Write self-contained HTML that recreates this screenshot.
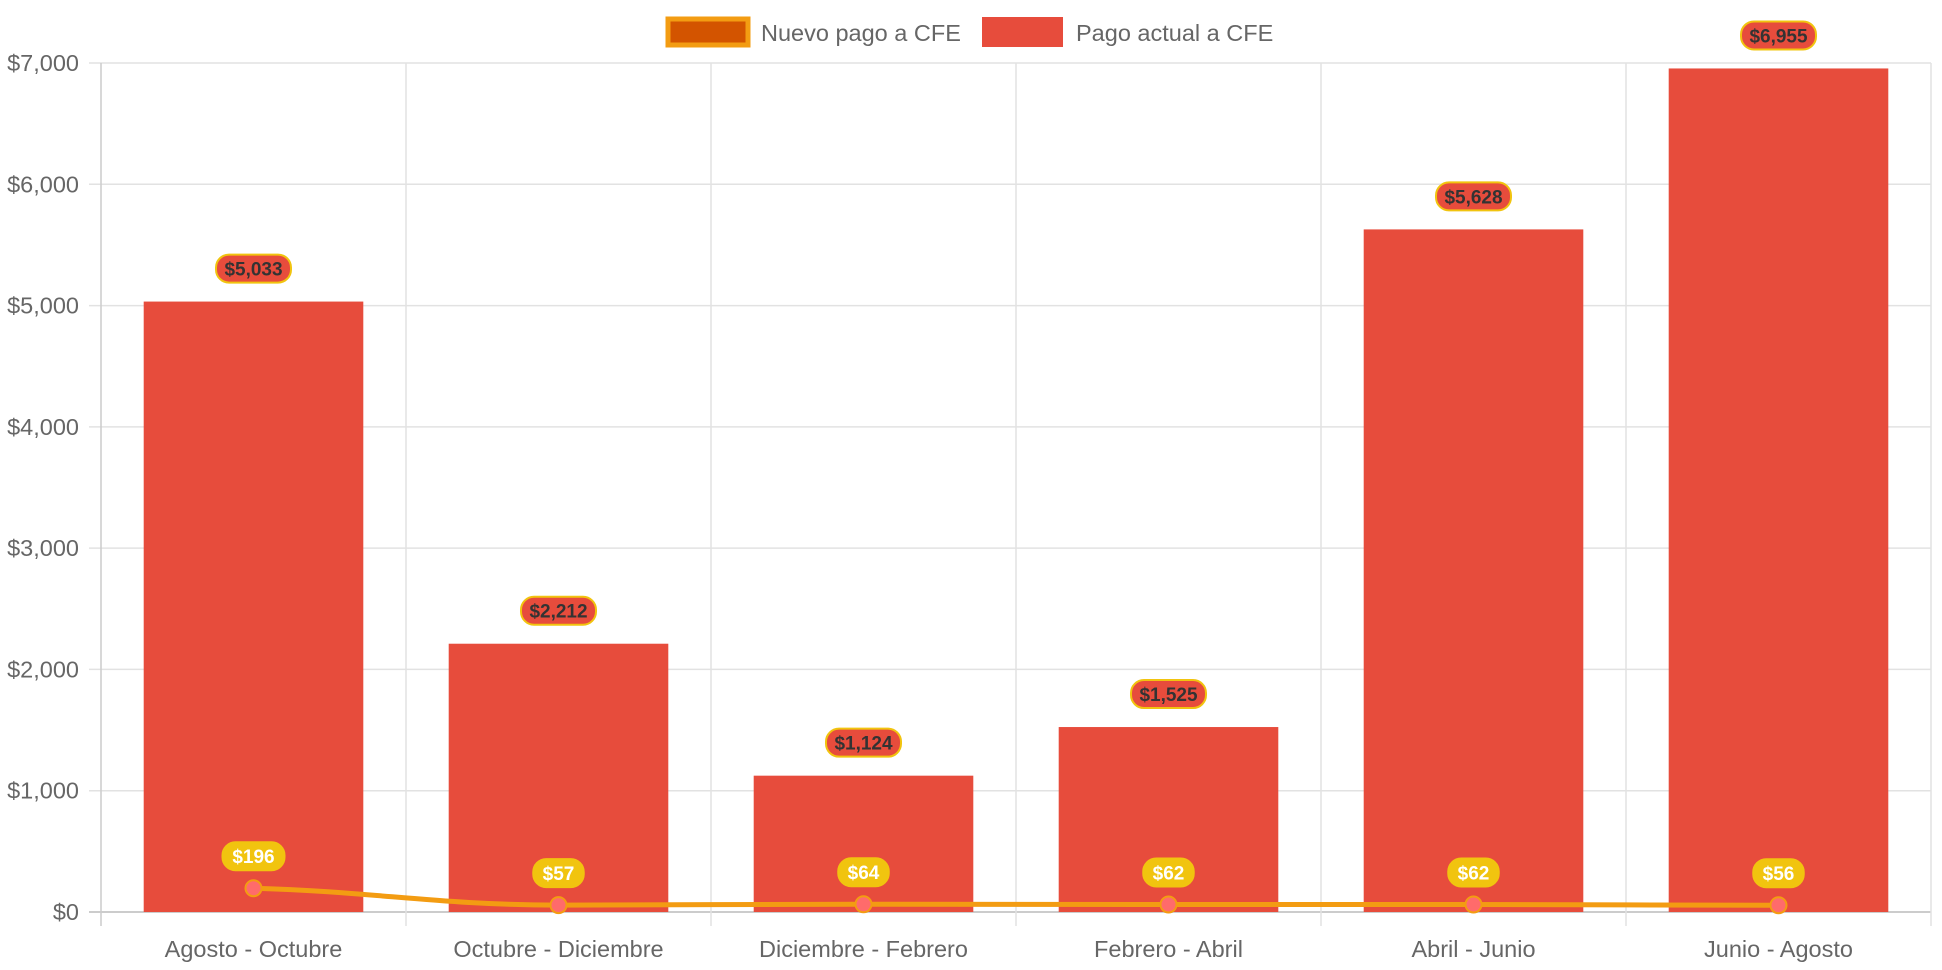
<!DOCTYPE html>
<html><head><meta charset="utf-8"><style>
html,body{margin:0;padding:0;background:#fff;}
svg{display:block;font-family:"Liberation Sans",Arial,sans-serif;}
</style></head><body>
<svg id="chart" width="1942" height="970">
<g id="legend">
  <g>
    <rect x="668" y="19" width="80" height="26" fill="#d35400" stroke="#f39c12" stroke-width="5"/>
    <text x="761" y="41" font-size="23.5" fill="#666">Nuevo pago a CFE</text>
  </g>
  <g>
    <rect x="982" y="17" width="81" height="30" fill="#e74c3c"/>
    <text x="1076" y="41" font-size="23.5" fill="#666">Pago actual a CFE</text>
  </g>
</g>
<g id="grid"></g>
<g id="bars"></g>
<g id="line"></g>
<g id="labels"></g>
</svg>
<script>
const categories = ["Agosto - Octubre","Octubre - Diciembre","Diciembre - Febrero","Febrero - Abril","Abril - Junio","Junio - Agosto"];
const pagoActual = [5033, 2212, 1124, 1525, 5628, 6955];
const nuevoPago = [196, 57, 64, 62, 62, 56];
const yTicks = [0,1000,2000,3000,4000,5000,6000,7000];

const NS="http://www.w3.org/2000/svg";
const L=101,R=1931,T=63,B=912,YMAX=7000;
const bw=(R-L)/categories.length;
const x=i=>L+bw*(i+0.5);
const y=v=>B-(v/YMAX)*(B-T);
function mk(tag,attrs,parent){const e=document.createElementNS(NS,tag);for(const k in attrs)e.setAttribute(k,attrs[k]);parent.appendChild(e);return e;}
const fmt=v=>"$"+v.toLocaleString("en-US");
const grid=document.getElementById("grid"),bars=document.getElementById("bars"),line=document.getElementById("line"),labels=document.getElementById("labels");

yTicks.forEach(t=>{
  const g=mk("line",{x1:L-12,x2:R,y1:y(t),y2:y(t),stroke:t===0?"#ccc":"#e2e2e2","stroke-width":t===0?2:1.5},grid);
  
  
  const tx=mk("text",{x:L-22,y:y(t)+8,"text-anchor":"end","font-size":23.5,fill:"#666"},grid);
  tx.textContent=fmt(t);
  
  
});
for(let i=0;i<=categories.length;i++){
  const gx=L+bw*i;
  const g=mk("line",{x1:gx,x2:gx,y1:T,y2:B+14,stroke:i===0?"#ccc":"#e2e2e2","stroke-width":1.5},grid);
  
  
}
categories.forEach((c,i)=>{
  const tx=mk("text",{x:x(i),y:957,"text-anchor":"middle","font-size":23.5,fill:"#666"},grid);
  tx.textContent=c;
  
  
});
const barW=bw*0.72;
pagoActual.forEach((v,i)=>{
  const r=mk("rect",{x:x(i)-barW/2,y:y(v),width:barW,height:B-y(v),fill:"#e74c3c"},bars);
  
  
});
let d="";
const pts=nuevoPago.map((v,i)=>[x(i),y(v)]);
pts.forEach((p,i)=>{
  if(i===0){d+=`M${p[0]},${p[1]}`;return;}
  const p0=pts[i-1];const dx=(p[0]-p0[0])*0.4;
  d+=` C${p0[0]+dx},${p0[1]+(p[1]-p0[1])*0.2} ${p[0]-dx},${p[1]} ${p[0]},${p[1]}`;
});
const path=mk("path",{d:d,fill:"none",stroke:"#f39c12","stroke-width":5},line);


pts.forEach(p=>{
  const c=mk("circle",{cx:p[0],cy:p[1],r:8,fill:"#ff6b6b",stroke:"#f39c12","stroke-width":2},line);
  
  
});
function label(cx,cy,txt,fill,stroke,color,w){
  const g=mk("g",{},labels);
  mk("rect",{x:cx-w/2,y:cy-14,width:w,height:28,rx:13,fill:fill,stroke:stroke,"stroke-width":2},g);
  const t=mk("text",{x:cx,y:cy+7,"text-anchor":"middle","font-size":19,"font-weight":"bold",fill:color},g);
  t.textContent=txt;
  return g;
}
pagoActual.forEach((v,i)=>{
  const g=label(x(i),Math.max(35,y(v)-33),fmt(v),"#e74c3c","#f1c40f","#333",75);
  
  
});
nuevoPago.forEach((v,i)=>{
  const s=fmt(v);
  const g=label(x(i),y(v)-32,s,"#f1c40f","#f1c40f","#fff",s.length*11.5+16);
  
  
});
</script>
</body></html>
